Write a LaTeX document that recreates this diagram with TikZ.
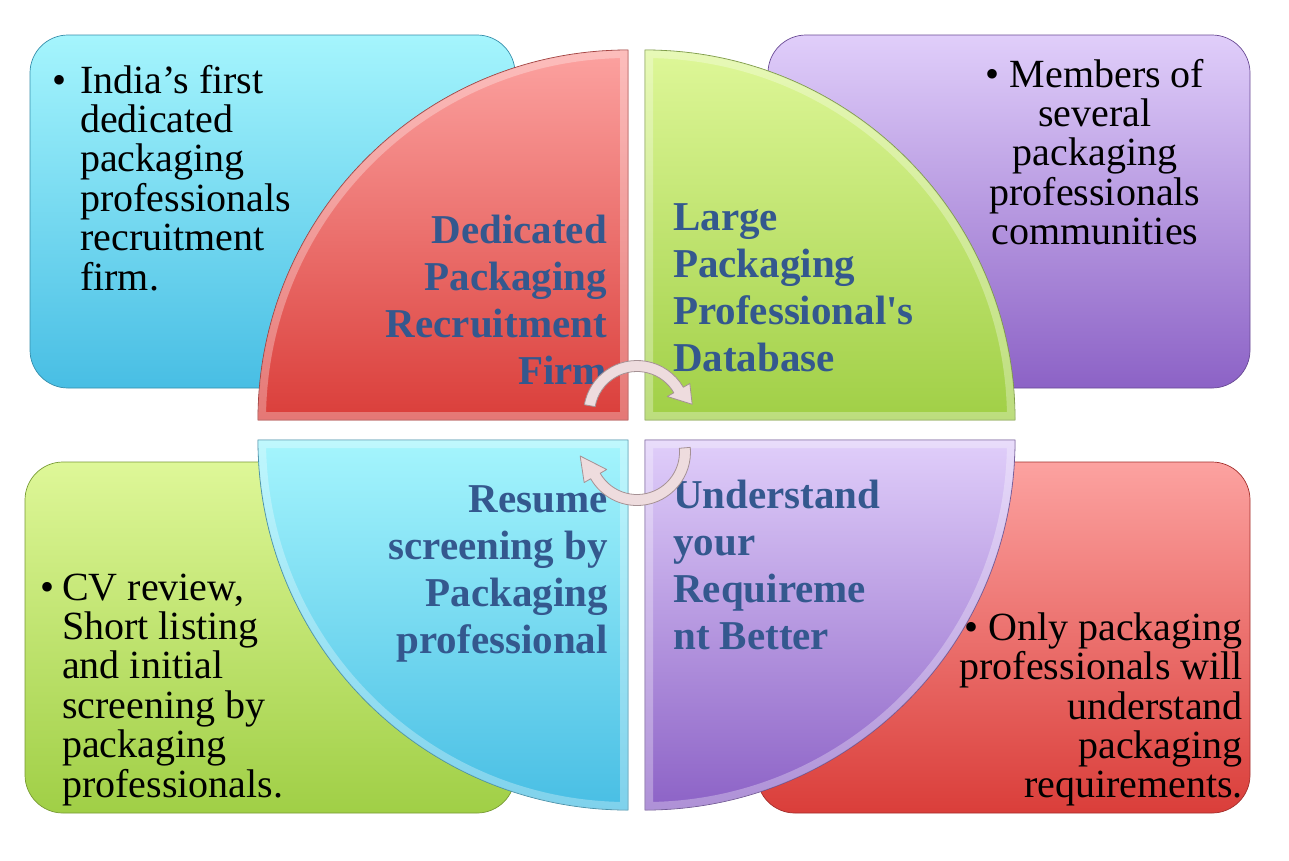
\documentclass[tikz,border=0pt]{standalone}
\usepackage{fontspec}
\setmainfont{Liberation Serif}
\usepackage{array}
\usepackage{tikz}
\usepackage{xcolor}
\definecolor{cyantop}{RGB}{165,245,253}
\definecolor{cyanbot}{RGB}{72,190,228}
\definecolor{redtop}{RGB}{252,162,160}
\definecolor{redbot}{RGB}{218,62,58}
\definecolor{greentop}{RGB}{222,247,152}
\definecolor{greenbot}{RGB}{160,207,70}
\definecolor{purpletop}{RGB}{224,206,250}
\definecolor{purplebot}{RGB}{140,98,198}
\definecolor{labelblue}{RGB}{52,88,142}
\definecolor{arrowpink}{RGB}{238,220,222}
\definecolor{arrowedge}{RGB}{165,145,148}
\newcommand{\redquarter}{(628,420) -- (258,420) arc[start angle=180,end angle=270,radius=370] -- cycle}
\newcommand{\greenquarter}{(645,50) arc[start angle=270,end angle=360,radius=370] -- (645,420) -- cycle}
\newcommand{\cyanquarter}{(628,440) -- (258,440) arc[start angle=180,end angle=90,radius=370] -- cycle}
\newcommand{\purplequarter}{(645,440) -- (1015,440) arc[start angle=0,end angle=90,radius=370] -- cycle}

\begin{document}
\begin{tikzpicture}[x=1pt, y=-1pt,
    panel/.style={rounded corners=38pt, line width=.7pt},
    quarter/.style={line width=.8pt},
    bevel/.style={white, opacity=.3, line width=16pt},
    bodytext/.style={inner sep=0pt, font=\fontsize{40}{39}\selectfont},
    quartertext/.style={inner sep=0pt, text=labelblue, font=\fontsize{41}{47}\selectfont\bfseries},
    cyclearrow/.style={fill=arrowpink, draw=arrowedge, line width=.8pt, line join=round}]
  \useasboundingbox[fill=white] (0,0) rectangle (1289,860);
  % outer panels
  \draw[panel, top color=cyantop, bottom color=cyanbot, draw=cyanbot!75!black] (30,35) rectangle (515,388);
  \draw[panel, top color=purpletop, bottom color=purplebot, draw=purplebot!75!black] (768,35) rectangle (1250,388);
  \draw[panel, top color=greentop, bottom color=greenbot, draw=greenbot!75!black] (25,462) rectangle (515,813);
  \draw[panel, top color=redtop, bottom color=redbot, draw=redbot!75!black] (757,462) rectangle (1250,813);
  % quarters
  \draw[quarter, top color=redtop, bottom color=redbot, draw=redbot!70!black] \redquarter;
  \begin{scope}
    \clip \redquarter;
    \draw[bevel] \redquarter;
  \end{scope}
  \draw[quarter, top color=greentop, bottom color=greenbot, draw=greenbot!70!black] \greenquarter;
  \begin{scope}
    \clip \greenquarter;
    \draw[bevel] \greenquarter;
  \end{scope}
  \draw[quarter, top color=cyantop, bottom color=cyanbot, draw=cyanbot!70!black] \cyanquarter;
  \begin{scope}
    \clip \cyanquarter;
    \draw[bevel] \cyanquarter;
  \end{scope}
  \draw[quarter, top color=purpletop, bottom color=purplebot, draw=purplebot!70!black] \purplequarter;
  \begin{scope}
    \clip \purplequarter;
    \draw[bevel] \purplequarter;
  \end{scope}
  % panel texts
  \node[bodytext, anchor=base west] (tltext) at (52,93) {\begin{tabular}[t]{@{}wl{28pt}@{}l@{}}
    \textbullet & India’s first\\ & dedicated\\ & packaging\\ & professionals\\ & recruitment\\ & firm.
  \end{tabular}};
  \node[bodytext, anchor=base] (trtext) at (1095,87) {\begin{tabular}[t]{@{}c@{}}
    \textbullet\ Members of\\ several\\ packaging\\ professionals\\ communities
  \end{tabular}};
  \node[bodytext, anchor=base west] (bltext) at (40,600) {\begin{tabular}[t]{@{}wl{22pt}@{}l@{}}
    \textbullet & CV review,\\ & Short listing\\ & and initial\\ & screening by\\ & packaging\\ & professionals.
  \end{tabular}};
  \node[bodytext, anchor=base east] (brtext) at (1243,640) {\begin{tabular}[t]{@{}r@{}}
    \textbullet\ Only packaging\\ professionals will\\ understand\\ packaging\\ requirements.
  \end{tabular}};
  % quarter labels
  \node[quartertext, anchor=base east] (firmlabel) at (607,243) {\begin{tabular}[t]{@{}r@{}}
    Dedicated\\ Packaging\\ Recruitment\\ Firm
  \end{tabular}};
  \node[quartertext, anchor=base west] (databaselabel) at (673,230) {\begin{tabular}[t]{@{}l@{}}
    Large\\ Packaging\\ Professional\textquotesingle s\\ Database
  \end{tabular}};
  \node[quartertext, anchor=base east] (screeninglabel) at (608,512) {\begin{tabular}[t]{@{}r@{}}
    Resume\\ screening by\\ Packaging\\ professional
  \end{tabular}};
  \node[quartertext, anchor=base west] (requirementlabel) at (673,508) {\begin{tabular}[t]{@{}l@{}}
    Understand\\ your\\ Requireme\\ nt Better
  \end{tabular}};
  % cycle arrows
  \draw[cyclearrow, shift={(637,414)}] (190:53.5) arc[start angle=190, end angle=330, radius=53.5]
    -- (330:61) -- (350:56) -- (330:35) -- (330:42.5) arc[start angle=330, end angle=190, radius=42.5] -- cycle;
  \draw[cyclearrow, shift={(637,452)}] (-5:53.5) arc[start angle=-5, end angle=150, radius=53.5]
    -- (150:61) -- (176:57) -- (150:35) -- (150:42.5) arc[start angle=150, end angle=-5, radius=42.5] -- cycle;
\end{tikzpicture}
\end{document}
